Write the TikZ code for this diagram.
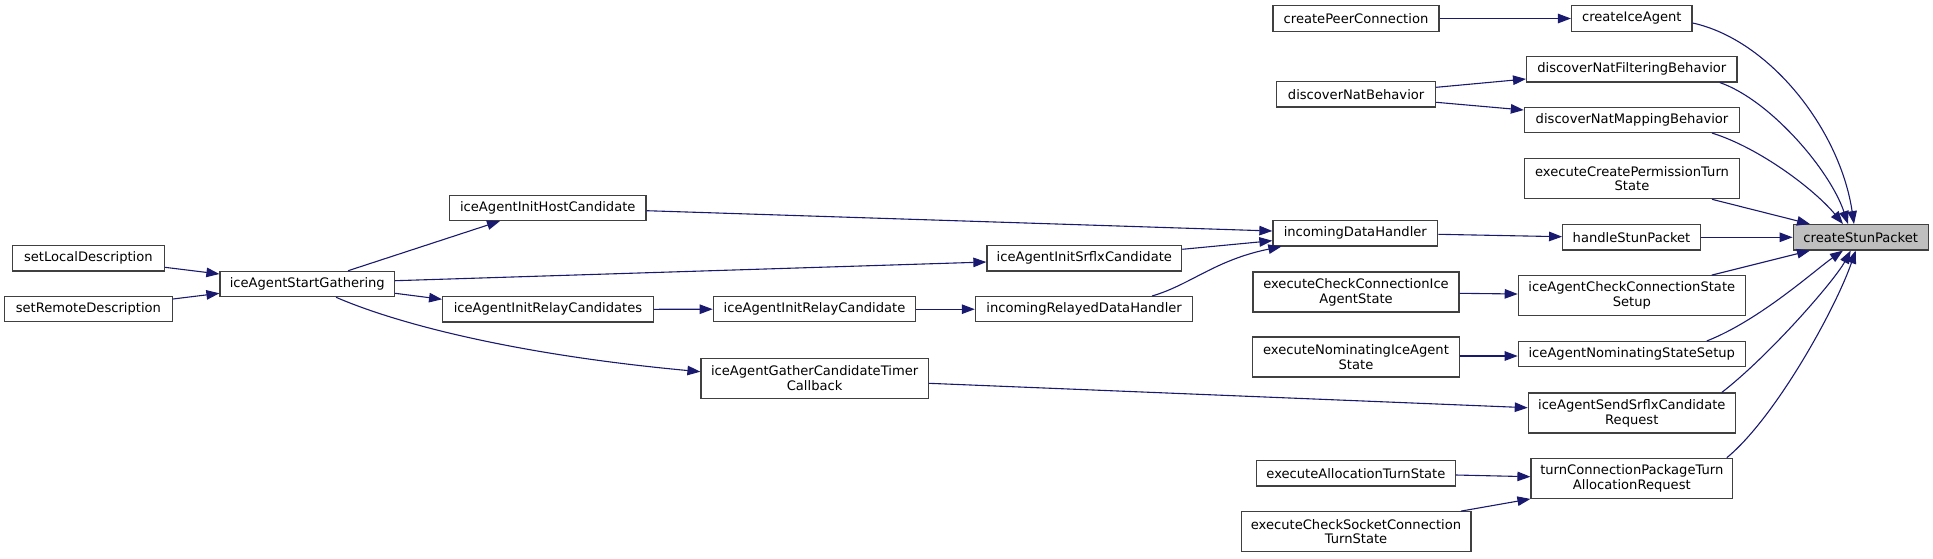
\documentclass[tikz,border=0pt]{standalone}
\usepackage{fontspec}
\setmainfont{DejaVu Sans}
\usetikzlibrary{arrows.meta}
\definecolor{edgeblue}{HTML}{191970}
\definecolor{boxline}{HTML}{404040}
\definecolor{rootfill}{HTML}{BFBFBF}
\begin{document}
\begin{tikzpicture}[x=1pt,y=-1pt,
  fn/.style={draw=boxline, line width=1.2pt, fill=white, inner sep=0pt, align=center,
    minimum height=25.3pt, font=\fontsize{13.1}{14.8}\selectfont},
  fntwo/.style={fn, minimum height=40pt},
  root/.style={fn, fill=rootfill},
  edge/.style={draw=edgeblue, line width=1.1pt, -{Triangle[length=13pt,width=9.5pt]}}]
\useasboundingbox (0,0) rectangle (1933,558);

% nodes
\node[fn, minimum width=166pt] (cpc) at (1356,18.5) {createPeerConnection};
\node[fn, minimum width=120.5pt] (cia) at (1631.8,18.5) {createIceAgent};
\node[fn, minimum width=210.4pt] (dnfb) at (1631.8,69.3) {discoverNatFilteringBehavior};
\node[fn, minimum width=159pt] (dnb) at (1356.1,94.3) {discoverNatBehavior};
\node[fn, minimum width=215.2pt] (dnmb) at (1632,119.8) {discoverNatMappingBehavior};
\node[fntwo, minimum width=215.2pt] (ecpts) at (1632,178.7) {executeCreatePermissionTurn\\State};
\node[fn, minimum width=164.7pt] (idh) at (1355.3,233.3) {incomingDataHandler};
\node[fn, minimum width=137.7pt] (hsp) at (1631.5,237.3) {handleStunPacket};
\node[root, minimum width=135pt] (csp) at (1860.7,237.3) {createStunPacket};
\node[fntwo, minimum width=206pt] (ecci) at (1356,292) {executeCheckConnectionIce\\AgentState};
\node[fntwo, minimum width=227pt] (iccss) at (1631.8,295.7) {iceAgentCheckConnectionState\\Setup};
\node[fntwo, minimum width=207pt] (eni) at (1356,357) {executeNominatingIceAgent\\State};
\node[fn, minimum width=227pt] (inss) at (1631.8,354.2) {iceAgentNominatingStateSetup};
\node[fntwo, minimum width=207pt] (isscr) at (1631.8,413) {iceAgentSendSrflxCandidate\\Request};
\node[fn, minimum width=198.7pt] (eat) at (1355.9,473.3) {executeAllocationTurnState};
\node[fntwo, minimum width=201.6pt] (tcp) at (1631.8,478.3) {turnConnectionPackageTurn\\AllocationRequest};
\node[fntwo, minimum width=229.8pt] (ecsc) at (1356,531.7) {executeCheckSocketConnection\\TurnState};
\node[fn, minimum width=151.8pt] (sld) at (88.4,258.3) {setLocalDescription};
\node[fn, minimum width=167.8pt] (srd) at (88.4,309.2) {setRemoteDescription};
\node[fn, minimum width=174.6pt] (iasg) at (307.3,284) {iceAgentStartGathering};
\node[fn, minimum width=196.4pt] (iaihc) at (547.8,207.8) {iceAgentInitHostCandidate};
\node[fn, minimum width=210.7pt] (iairs) at (548,309.3) {iceAgentInitRelayCandidates};
\node[fn, minimum width=194.7pt] (iaisc) at (1084.3,258.3) {iceAgentInitSrflxCandidate};
\node[fn, minimum width=202.4pt] (iair) at (814.5,309.2) {iceAgentInitRelayCandidate};
\node[fn, minimum width=217.4pt] (irdh) at (1084.1,309.2) {incomingRelayedDataHandler};
\node[fntwo, minimum width=227.2pt] (igctc) at (814.6,378.5) {iceAgentGatherCandidateTimer\\Callback};

% edges into createStunPacket
\draw[edge] ([yshift=-4.5pt]cia.east) .. controls (1770,40) and (1840,130) .. ([xshift=-6.7pt]csp.north);
\draw[edge] ([xshift=88pt]dnfb.south) .. controls (1770,100) and (1830,170) .. ([xshift=-12.7pt]csp.north);
\draw[edge] ([xshift=80pt]dnmb.south) .. controls (1760,148) and (1815,190) .. ([xshift=-17.7pt]csp.north);
\draw[edge] ([xshift=80pt]ecpts.south) -- ([xshift=-50.7pt]csp.north);
\draw[edge] (hsp.east) -- (csp.west);
\draw[edge] ([xshift=80pt]iccss.north) -- ([xshift=-50.7pt]csp.south);
\draw[edge] ([xshift=75pt]inss.north) .. controls (1760,320) and (1815,270) .. ([xshift=-17.7pt]csp.south);
\draw[edge] ([xshift=90pt]isscr.north) .. controls (1770,355) and (1835,280) .. ([xshift=-10pt]csp.south);
\draw[edge] ([xshift=95pt]tcp.north) .. controls (1775,418) and (1835,310) .. ([xshift=-5pt]csp.south);

% other edges
\draw[edge] (cpc.east) -- (cia.west);
\draw[edge] ([yshift=7pt]dnb.east) -- ([yshift=-9.7pt]dnfb.west);
\draw[edge] ([yshift=-8pt]dnb.east) -- ([yshift=9.8pt]dnmb.west);
\draw[edge] ([yshift=-1pt]idh.east) -- ([yshift=0.6pt]hsp.west);
\draw[edge] ([yshift=-1.3pt]ecci.east) -- ([yshift=1.7pt]iccss.west);
\draw[edge] ([yshift=1pt]eni.east) -- ([yshift=-1.8pt]inss.west);
\draw[edge] ([yshift=-1.7pt]eat.east) -- ([yshift=1.6pt]tcp.west);
\draw[edge] ([xshift=105pt]ecsc.north) -- (tcp.south west);
\draw[edge] ([yshift=-4.8pt]igctc.east) -- ([yshift=5.3pt]isscr.west);
\draw[edge] ([yshift=-9pt]sld.east) -- ([yshift=10pt]iasg.west);
\draw[edge] ([yshift=10.2pt]srd.east) -- ([yshift=-9.3pt]iasg.west);
\draw[edge] ([xshift=40.7pt]iasg.north) -- ([xshift=-47.8pt]iaihc.south);
\draw[edge] ([yshift=3.3pt]iasg.east) -- ([yshift=-3.7pt]iaisc.west);
\draw[edge] ([yshift=-9.3pt]iasg.east) -- ([yshift=10pt]iairs.west);
\draw[edge] ([xshift=28.7pt]iasg.south) .. controls (400,325) and (520,355) .. ([yshift=6.8pt]igctc.west);
\draw[edge] (iairs.east) -- (iair.west);
\draw[edge] (iair.east) -- (irdh.west);
\draw[edge] ([yshift=-2.9pt]iaihc.east) -- ([yshift=2.3pt]idh.west);
\draw[edge] ([yshift=9pt]iaisc.east) -- ([yshift=-7.4pt]idh.west);
\draw[edge] ([xshift=68pt]irdh.north) .. controls (1190,285) and (1215,260) .. ([xshift=9pt]idh.south west);
\end{tikzpicture}
\end{document}
